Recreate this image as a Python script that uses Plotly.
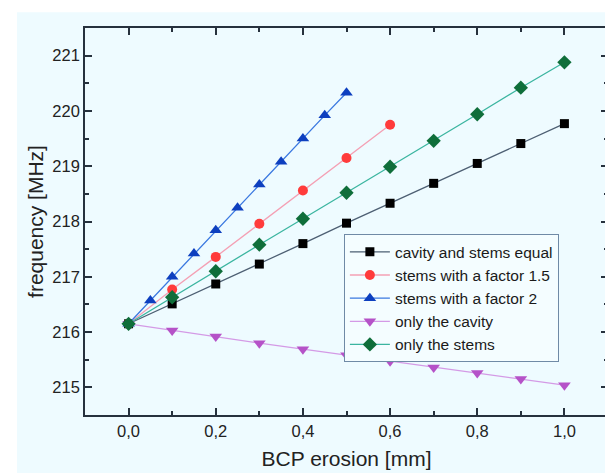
import plotly.graph_objects as go

x_main = [0.0, 0.1, 0.2, 0.3, 0.4, 0.5, 0.6, 0.7, 0.8, 0.9, 1.0]
y_equal = [216.15, 216.51, 216.87, 217.23, 217.60, 217.97, 218.33, 218.69, 219.05, 219.41, 219.77]
x_f15 = [0.0, 0.1, 0.2, 0.3, 0.4, 0.5, 0.6]
y_f15 = [216.15, 216.77, 217.36, 217.96, 218.56, 219.15, 219.75]
x_f2 = [0.0, 0.05, 0.1, 0.15, 0.2, 0.25, 0.3, 0.35, 0.4, 0.45, 0.5]
y_f2 = [216.15, 216.57, 217.00, 217.42, 217.84, 218.25, 218.67, 219.08, 219.50, 219.92, 220.33]
y_cavity = [216.15, 216.03, 215.92, 215.80, 215.69, 215.58, 215.47, 215.36, 215.26, 215.15, 215.04]
y_stems = [216.15, 216.63, 217.10, 217.58, 218.05, 218.52, 218.99, 219.46, 219.94, 220.42, 220.88]

x_tickvals = [0.0, 0.2, 0.4, 0.6, 0.8, 1.0]
x_ticktext = ["0,0", "0,2", "0,4", "0,6", "0,8", "1,0"]
y_tickvals = [215, 216, 217, 218, 219, 220, 221]

BG = "#eefbff"
AX = "#26313d"
FONT = "Liberation Sans, Arial, sans-serif"

fig = go.Figure()

def add(name, xs, ys, lcolor, mcolor, symbol, size):
    fig.add_trace(go.Scatter(
        x=xs, y=ys, name=name, mode="lines+markers",
        line=dict(color=lcolor, width=1.3),
        marker=dict(color=mcolor, symbol=symbol, size=size, line=dict(width=0)),
    ))

add("cavity and stems equal", x_main, y_equal, "#4d5f73", "#000000", "square", 9)
add("stems with a factor 1.5", x_f15, y_f15, "#f4a0b4", "#ff3b3b", "circle", 10)
add("stems with a factor 2", x_f2, y_f2, "#3a78e0", "#0d3fbf", "triangle-up", 11)
add("only the cavity", x_main, y_cavity, "#d49ae6", "#b552c8", "triangle-down", 11)
add("only the stems", x_main, y_stems, "#3bb5a0", "#0f6e3a", "diamond", 11)

axis_common = dict(
    showgrid=False, zeroline=False, showline=True, linecolor=AX, linewidth=1.6,
    mirror="ticks", ticks="inside", ticklen=7, tickwidth=1.5, tickcolor=AX,
    tickfont=dict(family=FONT, size=16.5, color="#222222"),
)

fig.update_layout(
    width=613, height=473,
    margin=dict(l=77, r=11, t=20, b=66),
    paper_bgcolor=BG, plot_bgcolor=BG,
    font=dict(family=FONT, color="#222222"),
    xaxis=dict(
        range=[-0.1, 1.1], tickvals=x_tickvals, ticktext=x_ticktext,
        minor=dict(dtick=0.1, tick0=0, ticks="inside", ticklen=4, tickwidth=1.5, tickcolor=AX),
        title=dict(text="BCP erosion [mm]", font=dict(family=FONT, size=21), standoff=13),
        **axis_common,
    ),
    yaxis=dict(
        range=[214.5, 221.5], tickvals=y_tickvals,
        minor=dict(dtick=0.5, tick0=215, ticks="inside", ticklen=4, tickwidth=1.5, tickcolor=AX),
        title=dict(text="frequency [MHz]", font=dict(family=FONT, size=21), standoff=3),
        **axis_common,
    ),
    legend=dict(
        x=0.495, y=0.467, xanchor="left", yanchor="top",
        bgcolor="#f4fdff", bordercolor="#6f8aa6", borderwidth=1,
        font=dict(family=FONT, size=15.5, color="#1a1a1a"),
        tracegroupgap=0, itemwidth=40,
    ),
    shapes=[
        dict(type="rect", xref="paper", yref="paper", x0=-0.2, x1=1.2, y0=1.041, y1=1.2,
             fillcolor="white", line=dict(width=0), layer="above"),
        dict(type="rect", xref="paper", yref="paper", x0=-0.2, x1=-0.13, y0=-0.3, y1=1.2,
             fillcolor="white", line=dict(width=0), layer="above"),
    ],
)

fig.write_html("out.html")
